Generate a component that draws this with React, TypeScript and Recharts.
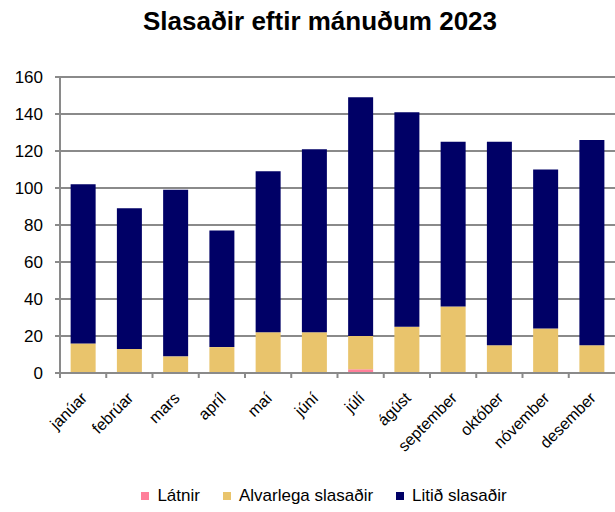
import { BarChart, Bar, XAxis, YAxis, CartesianGrid, Legend } from 'recharts';

const months = ['janúar', 'febrúar', 'mars', 'apríl', 'maí', 'júní', 'júlí', 'ágúst', 'september', 'október', 'nóvember', 'desember'];
const latnir = [0, 0, 0, 0, 0, 0, 2, 0, 0, 0, 0, 0];
const alvarlega = [16, 13, 9, 14, 22, 22, 18, 25, 36, 15, 24, 15];
const litid = [86, 76, 90, 63, 87, 99, 129, 116, 89, 110, 86, 111];
const yTicks = [0, 20, 40, 60, 80, 100, 120, 140, 160];
const legendOrder = ['Látnir', 'Alvarlega slasaðir', 'Litið slasaðir'];

const data = months.map((m, i) => ({
  month: m,
  latnir: latnir[i],
  alvarlega: alvarlega[i],
  litid: litid[i],
}));

const FONT = "'Liberation Sans', Arial, sans-serif";
const GRID = '#8a8a8a';
const HALF_BAND = 555 / 12 / 2;

// month label rotated -45deg, plus the tick mark on the category boundary
function MonthTick(props: any) {
  const { x, y, payload } = props;
  const lx = x + 5;
  const ly = y + 26;
  return (
    <g>
      <line x1={x - HALF_BAND} y1={y} x2={x - HALF_BAND} y2={y + 5} stroke={GRID} strokeWidth={2} />
      <text
        x={lx} y={ly} textAnchor="end" fontSize={16} fill="#000" fontFamily={FONT}
        transform={`rotate(-45, ${lx}, ${ly})`}
      >
        {payload.value}
      </text>
    </g>
  );
}

function LegendBox(props: any) {
  const items = [...(props.payload || [])].sort(
    (a: any, b: any) => legendOrder.indexOf(a.value) - legendOrder.indexOf(b.value),
  );
  return (
    <div style={{ display: 'flex', justifyContent: 'center', alignItems: 'center', gap: 23, fontSize: 17, fontFamily: FONT, color: '#000' }}>
      {items.map((it: any) => (
        <div key={it.value} style={{ display: 'flex', alignItems: 'center' }}>
          <span style={{ display: 'inline-block', width: 8, height: 8, background: it.color, marginRight: 8 }} />
          <span>{it.value}</span>
        </div>
      ))}
    </div>
  );
}

export default function App() {
  return (
    <div style={{ position: 'absolute', left: 0, top: 0, width: 615, height: 512, background: '#fff', fontFamily: FONT }}>
      <div style={{ position: 'absolute', left: 0, top: 6, width: 640, textAlign: 'center', fontSize: 26, fontWeight: 'bold', color: '#000' }}>
        Slasaðir eftir mánuðum 2023
      </div>
      <BarChart
        width={615} height={512} data={data}
        margin={{ top: 77, right: 0, left: 0, bottom: 5 }}
        barCategoryGap="23%"
      >
        <CartesianGrid vertical={false} stroke={GRID} strokeWidth={2} />
        <XAxis
          dataKey="month" interval={0} height={113}
          tick={<MonthTick />} tickLine={false} tickSize={0} tickMargin={0}
          axisLine={{ stroke: GRID, strokeWidth: 2 }}
        />
        <YAxis
          width={60} domain={[0, 160]} ticks={yTicks} interval={0}
          tick={{ fill: '#000', fontSize: 17, fontFamily: FONT }}
          tickSize={5} tickMargin={12}
          tickLine={{ stroke: GRID, strokeWidth: 2 }}
          axisLine={{ stroke: GRID, strokeWidth: 2 }}
        />
        <Legend
          verticalAlign="bottom"
          content={<LegendBox />}
          wrapperStyle={{ left: 0, width: 648, height: 21 }}
        />
        <Bar dataKey="latnir" name="Látnir" stackId="a" fill="#FF7F9A" isAnimationActive={false} />
        <Bar dataKey="alvarlega" name="Alvarlega slasaðir" stackId="a" fill="#E9C46C" isAnimationActive={false} />
        <Bar dataKey="litid" name="Litið slasaðir" stackId="a" fill="#000066" isAnimationActive={false} />
      </BarChart>
    </div>
  );
}
